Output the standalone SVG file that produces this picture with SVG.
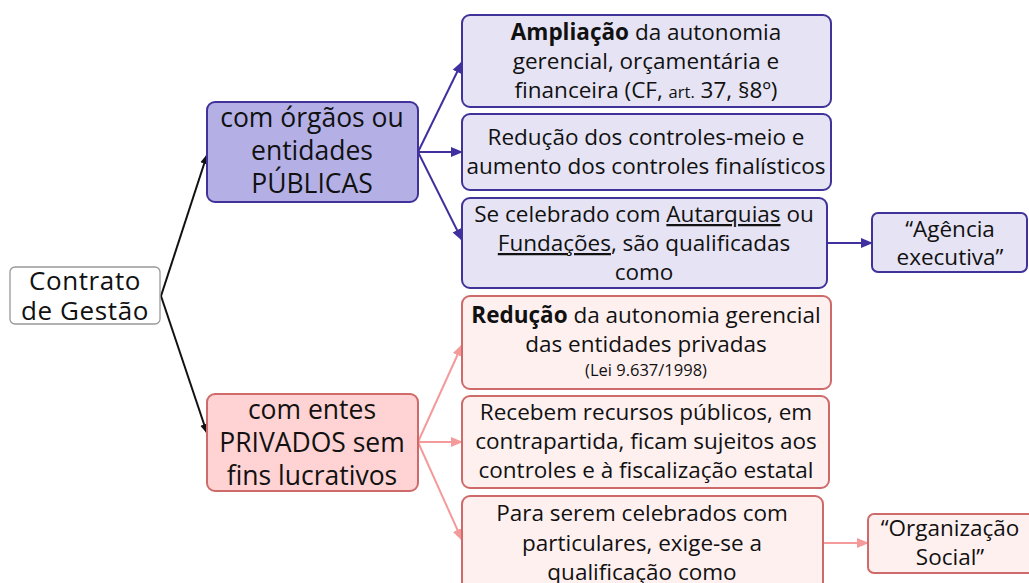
<svg xmlns="http://www.w3.org/2000/svg" width="1029" height="583" viewBox="0 0 1029 583">
<defs>
<style>
text{font-family:"Open Sans","Liberation Sans",sans-serif;fill:#111;text-anchor:middle}
.t{font-size:22.5px}
.h{font-size:26.5px}
.r{font-size:26px;letter-spacing:0.6px}
.s{font-size:16.5px}
.b{font-weight:bold}
.u{text-decoration:underline}
.root{fill:#fff;stroke:#999;stroke-width:1.3}
.pub{fill:#b4b0e6;stroke:#3f3399;stroke-width:2}
.pl{fill:#e6e4f4;stroke:#3f3399;stroke-width:2}
.prv{fill:#ffd3d3;stroke:#cf6a6a;stroke-width:2}
.pk{fill:#fff0f0;stroke:#cf6a6a;stroke-width:2}
.cb{stroke:#111;stroke-width:2;fill:none}
.cp{stroke:#3f2f9f;stroke-width:2;fill:none}
.cr{stroke:#f59a9a;stroke-width:2;fill:none}
</style>
<marker id="ab" markerWidth="10" markerHeight="10" refX="9" refY="5" orient="auto" markerUnits="userSpaceOnUse"><path d="M0,1 L10,5 L0,9 z" fill="#111"/></marker>
<marker id="ap" markerWidth="12" markerHeight="12" refX="11" refY="6" orient="auto" markerUnits="userSpaceOnUse"><path d="M0,1 L12,6 L0,11 z" fill="#3f2f9f"/></marker>
<marker id="ar" markerWidth="12" markerHeight="12" refX="11" refY="6" orient="auto" markerUnits="userSpaceOnUse"><path d="M0,1 L12,6 L0,11 z" fill="#f59a9a"/></marker>
</defs>
<g id="connectors">
<path class="cb" d="M161,296 L207,155" marker-end="url(#ab)"/>
<path class="cb" d="M161,296 L207,433" marker-end="url(#ab)"/>
<path class="cp" d="M418,152 L462,62" marker-end="url(#ap)"/>
<path class="cp" d="M418,152 L462,152" marker-end="url(#ap)"/>
<path class="cp" d="M418,152 L462,240" marker-end="url(#ap)"/>
<path class="cp" d="M827,243 L872,243" marker-end="url(#ap)"/>
<path class="cr" d="M418,442 L462,345" marker-end="url(#ar)"/>
<path class="cr" d="M418,442 L462,442" marker-end="url(#ar)"/>
<path class="cr" d="M418,442 L462,540" marker-end="url(#ar)"/>
<path class="cr" d="M823,543 L868,543" marker-end="url(#ar)"/>
</g>
<g id="root">
<rect class="root" x="10" y="267" width="150" height="57" rx="5"/>
<text class="r"><tspan x="85" y="290">Contrato</tspan><tspan x="85" y="320">de Gestão</tspan></text>
</g>
<g id="publicas">
<rect class="pub" x="207" y="102" width="211" height="100" rx="8"/>
<text class="h"><tspan x="312" y="127">com órgãos ou</tspan><tspan x="312" y="160">entidades</tspan><tspan x="312" y="193">PÚBLICAS</tspan></text>
</g>
<g id="ampliacao">
<rect class="pl" x="462" y="15" width="369" height="92" rx="8"/>
<text class="t"><tspan x="646" y="40"><tspan class="b">Ampliação</tspan> da autonomia</tspan><tspan x="646" y="69">gerencial, orçamentária e</tspan><tspan x="646" y="98">financeira (CF, <tspan class="s">art.</tspan> 37, §8º)</tspan></text>
</g>
<g id="reducao-controles">
<rect class="pl" x="462" y="114" width="369" height="76" rx="8"/>
<text class="t"><tspan x="646" y="145">Redução dos controles-meio e</tspan><tspan x="646" y="174">aumento dos controles finalísticos</tspan></text>
</g>
<g id="autarquias">
<rect class="pl" x="462" y="198" width="365" height="90" rx="8"/>
<text class="t"><tspan x="644" y="222">Se celebrado com <tspan class="u">Autarquias</tspan> ou</tspan><tspan x="644" y="251"><tspan class="u">Fundações</tspan>, são qualificadas</tspan><tspan x="644" y="280">como</tspan></text>
</g>
<g id="agencia">
<rect class="pl" x="872" y="213" width="155" height="59" rx="6"/>
<text class="t"><tspan x="950" y="237">“Agência</tspan><tspan x="950" y="265">executiva”</tspan></text>
</g>
<g id="privados">
<rect class="prv" x="207" y="394" width="211" height="97" rx="8"/>
<text class="h"><tspan x="312" y="419">com entes</tspan><tspan x="312" y="452">PRIVADOS sem</tspan><tspan x="312" y="485">fins lucrativos</tspan></text>
</g>
<g id="reducao-autonomia">
<rect class="pk" x="462" y="296" width="369" height="93" rx="8"/>
<text class="t"><tspan x="646" y="323"><tspan class="b">Redução</tspan> da autonomia gerencial</tspan><tspan x="646" y="352">das entidades privadas</tspan></text>
<text class="s" x="646" y="376">(Lei 9.637/1998)</text>
</g>
<g id="recebem">
<rect class="pk" x="462" y="396" width="367" height="92" rx="8"/>
<text class="t"><tspan x="646" y="420">Recebem recursos públicos, em</tspan><tspan x="646" y="449">contrapartida, ficam sujeitos aos</tspan><tspan x="646" y="478">controles e à fiscalização estatal</tspan></text>
</g>
<g id="particulares">
<rect class="pk" x="462" y="496" width="361" height="100" rx="8"/>
<text class="t"><tspan x="642" y="521">Para serem celebrados com</tspan><tspan x="642" y="551">particulares, exige-se a</tspan><tspan x="642" y="580">qualificação como</tspan></text>
</g>
<g id="os">
<rect class="pk" x="868" y="514" width="170" height="59" rx="6"/>
<text class="t"><tspan x="950" y="536">“Organização</tspan><tspan x="950" y="565">Social”</tspan></text>
</g>
</svg>
